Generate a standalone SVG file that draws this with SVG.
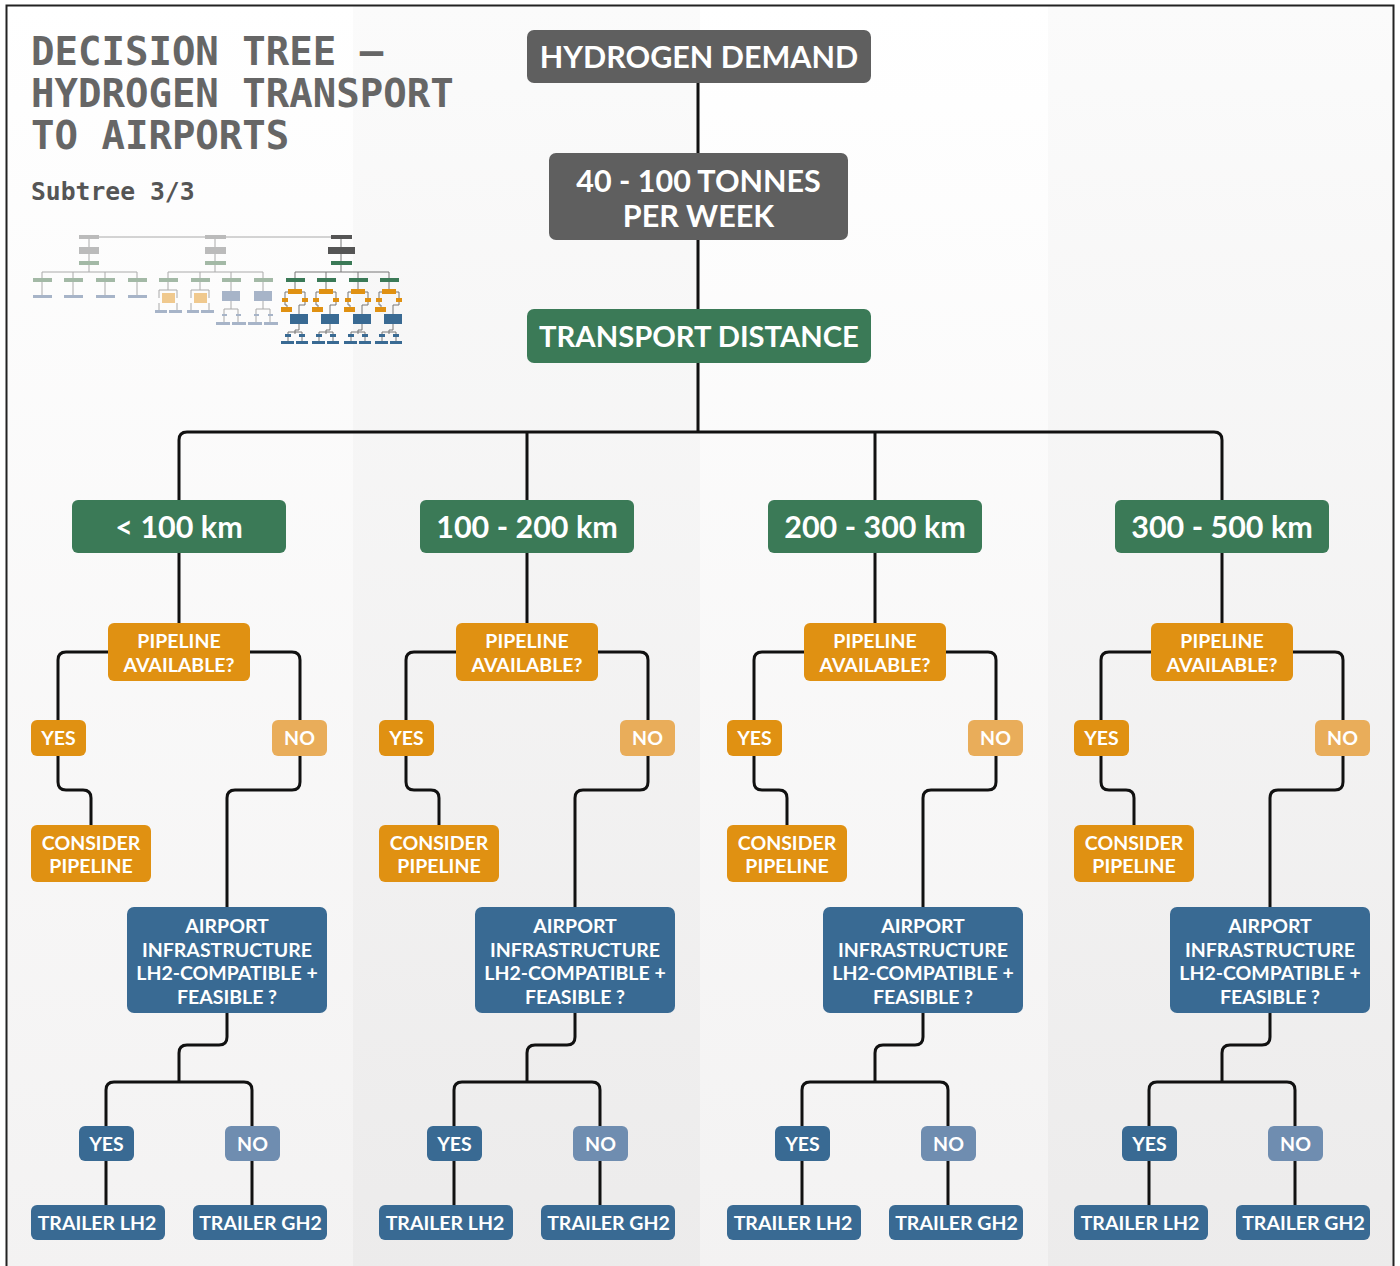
<svg xmlns="http://www.w3.org/2000/svg" width="1400" height="1266" viewBox="0 0 1400 1266">
<defs>
<linearGradient id="bgL" x1="0" y1="0" x2="0" y2="1"><stop offset="0" stop-color="#ffffff"/><stop offset="1" stop-color="#f3f2f2"/></linearGradient>
<linearGradient id="bgD" x1="0" y1="0" x2="0" y2="1"><stop offset="0" stop-color="#fbfbfb"/><stop offset="1" stop-color="#ecebeb"/></linearGradient>
<style>
.t{font-family:Lato,"Noto Sans","Liberation Sans",sans-serif;font-weight:700;fill:#fff;text-anchor:middle}
.big{font-size:30.5px}
.sm{font-size:19.5px}
.gray{fill:#5f5f5f}
.green{fill:#3b7a57}
.orange{fill:#e09112}
.orangeL{fill:#e9ad5a}
.blue{fill:#396a93}
.blueL{fill:#6f8db0}
.conn{fill:none;stroke:#111;stroke-width:3}
.mono{font-family:"DejaVu Sans Mono","Liberation Mono",monospace;font-weight:700}
.mm{fill:none;stroke:#aaa;stroke-width:1}
.mmd{fill:none;stroke:#777;stroke-width:1}
</style>
</defs>
<rect width="1400" height="1266" fill="#fff"/>
<rect x="6" y="5" width="347" height="1270" fill="url(#bgL)"/>
<rect x="353" y="5" width="347" height="1270" fill="url(#bgD)"/>
<rect x="700" y="5" width="348" height="1270" fill="url(#bgL)"/>
<rect x="1048" y="5" width="346" height="1270" fill="url(#bgD)"/>
<rect x="6.5" y="5.5" width="1387" height="1290" fill="none" stroke="#222" stroke-width="2"/>

<g id="title">
<text class="mono" x="31" y="65" font-size="39" fill="#666">DECISION TREE –</text>
<text class="mono" x="31" y="107" font-size="39" fill="#666">HYDROGEN TRANSPORT</text>
<text class="mono" x="31" y="149" font-size="39" fill="#666">TO AIRPORTS</text>
<text class="mono" x="31" y="200" font-size="24.7" fill="#555">Subtree 3/3</text>
</g>

<g id="minimap">
<path class="mm" d="M99,237H331M89,239V261M215,239V261M89,265V272M215,265V272M42,278V272H137V278M73,272V278M105,272V278M168,278V272H263V278M200,272V278M231,272V278"/>
<path class="mmd" d="M341,239V261M341,265V272M295,278V272H389V278M326,272V278M358,272V278"/>
<rect x="79" y="235" width="20" height="4" fill="#bbb"/><rect x="205" y="235" width="21" height="4" fill="#bbb"/><rect x="331" y="235" width="21" height="4" fill="#555"/>
<rect x="79" y="247" width="20" height="7" fill="#bbb"/><rect x="205" y="247" width="21" height="7" fill="#bbb"/><rect x="328" y="247" width="27" height="7" fill="#555"/>
<rect x="79" y="261" width="20" height="4" fill="#a3b9a6"/><rect x="205" y="261" width="21" height="4" fill="#a3b9a6"/><rect x="331" y="261" width="21" height="4" fill="#3b7a57"/>
<g fill="#a3b9a6"><rect x="33" y="278" width="19" height="4"/><rect x="64" y="278" width="19" height="4"/><rect x="96" y="278" width="19" height="4"/><rect x="128" y="278" width="19" height="4"/><rect x="159" y="278" width="19" height="4"/><rect x="191" y="278" width="19" height="4"/><rect x="222" y="278" width="19" height="4"/><rect x="254" y="278" width="19" height="4"/></g>
<g fill="#3b7a57"><rect x="286" y="278" width="19" height="4"/><rect x="317" y="278" width="19" height="4"/><rect x="349" y="278" width="19" height="4"/><rect x="380" y="278" width="19" height="4"/></g>
<path class="mm" d="M42,282V295M73,282V295M105,282V295M137,282V295"/>
<g fill="#a7b4c8"><rect x="33" y="295" width="19" height="3"/><rect x="64" y="295" width="19" height="3"/><rect x="96" y="295" width="19" height="3"/><rect x="128" y="295" width="19" height="3"/></g>
<path class="mm" d="M168,282V290M159,298V290H177V298M159,303V310M177,303V310M200,282V290M191,298V290H209V298M191,303V310M209,303V310"/>
<g fill="#f0c98e"><rect x="162" y="293" width="13" height="10"/><rect x="194" y="293" width="13" height="10"/></g>
<g fill="#a7b4c8"><rect x="155" y="310" width="12" height="3"/><rect x="169" y="310" width="13" height="3"/><rect x="187" y="310" width="12" height="3"/><rect x="201" y="310" width="13" height="3"/></g>
<path class="mm" d="M231,282V291M231,301V309H224V322M231,309H238V322M263,282V291M263,301V309H256V322M263,309H270V322"/>
<g fill="#a7b4c8"><rect x="222" y="291" width="18" height="10"/><rect x="254" y="291" width="18" height="10"/><rect x="222" y="314" width="5" height="2"/><rect x="236" y="314" width="5" height="2"/><rect x="254" y="314" width="5" height="2"/><rect x="268" y="314" width="5" height="2"/><rect x="216" y="322" width="14" height="3"/><rect x="232" y="322" width="14" height="3"/><rect x="248" y="322" width="14" height="3"/><rect x="264" y="322" width="14" height="3"/></g>
<g id="mm-active">
<path class="mmd" d="M295,282V289M288,292H285V298M302,292H305V298M285,302V305H287V307M305,302V305H299V314M299,324V330H295V334M288,334V332H302V334M288,337V341M302,337V341 M326,282V289M319,292H316V298M333,292H336V298M316,302V305H318V307M336,302V305H330V314M330,324V330H326V334M319,334V332H333V334M319,337V341M333,337V341 M358,282V289M351,292H348V298M365,292H368V298M348,302V305H350V307M368,302V305H362V314M362,324V330H358V334M351,334V332H365V334M351,337V341M365,337V341 M389,282V289M382,292H379V298M396,292H399V298M379,302V305H381V307M399,302V305H393V314M393,324V330H389V334M382,334V332H396V334M382,337V341M396,337V341"/>
<g fill="#e09112"><rect x="288" y="289" width="14" height="5"/><rect x="282" y="298" width="6" height="4"/><rect x="302" y="298" width="6" height="4"/><rect x="281" y="307" width="11" height="5"/><rect x="319" y="289" width="14" height="5"/><rect x="313" y="298" width="6" height="4"/><rect x="333" y="298" width="6" height="4"/><rect x="312" y="307" width="11" height="5"/><rect x="351" y="289" width="14" height="5"/><rect x="345" y="298" width="6" height="4"/><rect x="365" y="298" width="6" height="4"/><rect x="344" y="307" width="11" height="5"/><rect x="382" y="289" width="14" height="5"/><rect x="376" y="298" width="6" height="4"/><rect x="396" y="298" width="6" height="4"/><rect x="375" y="307" width="11" height="5"/></g>
<g fill="#396a93"><rect x="290" y="314" width="18" height="10"/><rect x="321" y="314" width="18" height="10"/><rect x="353" y="314" width="18" height="10"/><rect x="384" y="314" width="18" height="10"/>
<rect x="285" y="334" width="6" height="3"/><rect x="299" y="334" width="6" height="3"/><rect x="316" y="334" width="6" height="3"/><rect x="330" y="334" width="6" height="3"/><rect x="348" y="334" width="6" height="3"/><rect x="362" y="334" width="6" height="3"/><rect x="379" y="334" width="6" height="3"/><rect x="393" y="334" width="6" height="3"/>
<rect x="281" y="341" width="13" height="3"/><rect x="296" y="341" width="12" height="3"/><rect x="312" y="341" width="13" height="3"/><rect x="327" y="341" width="12" height="3"/><rect x="344" y="341" width="13" height="3"/><rect x="359" y="341" width="12" height="3"/><rect x="375" y="341" width="13" height="3"/><rect x="390" y="341" width="12" height="3"/></g>
</g>
</g>

<g id="connectors">
<path class="conn" d="M698,83V153M698,240V309M698,363V432"/>
<path class="conn" d="M179,500V440Q179,432 187,432H1214Q1222,432 1222,440V500M527,432V500M875,432V500"/>
<g id="conn-c1">
<path class="conn" d="M179,553V623M108,652H66Q58,652 58,660V720M250,652H292Q300,652 300,660V720M58,756V782Q58,790 66,790H83Q91,790 91,798V825M300,756V782Q300,790 292,790H235Q227,790 227,798V907M227,1013V1037Q227,1045 219,1045H187Q179,1045 179,1053V1082M106,1126V1090Q106,1082 114,1082H244Q252,1082 252,1090V1126M106,1161V1205M252,1161V1205"/>
</g>
<g transform="translate(348,0)"><path class="conn" d="M179,553V623M108,652H66Q58,652 58,660V720M250,652H292Q300,652 300,660V720M58,756V782Q58,790 66,790H83Q91,790 91,798V825M300,756V782Q300,790 292,790H235Q227,790 227,798V907M227,1013V1037Q227,1045 219,1045H187Q179,1045 179,1053V1082M106,1126V1090Q106,1082 114,1082H244Q252,1082 252,1090V1126M106,1161V1205M252,1161V1205"/></g>
<g transform="translate(696,0)"><path class="conn" d="M179,553V623M108,652H66Q58,652 58,660V720M250,652H292Q300,652 300,660V720M58,756V782Q58,790 66,790H83Q91,790 91,798V825M300,756V782Q300,790 292,790H235Q227,790 227,798V907M227,1013V1037Q227,1045 219,1045H187Q179,1045 179,1053V1082M106,1126V1090Q106,1082 114,1082H244Q252,1082 252,1090V1126M106,1161V1205M252,1161V1205"/></g>
<g transform="translate(1043,0)"><path class="conn" d="M179,553V623M108,652H66Q58,652 58,660V720M250,652H292Q300,652 300,660V720M58,756V782Q58,790 66,790H83Q91,790 91,798V825M300,756V782Q300,790 292,790H235Q227,790 227,798V907M227,1013V1037Q227,1045 219,1045H187Q179,1045 179,1053V1082M106,1126V1090Q106,1082 114,1082H244Q252,1082 252,1090V1126M106,1161V1205M252,1161V1205"/></g>
</g>

<g id="n-demand"><rect class="gray" x="527" y="30" width="344" height="53" rx="7"/><text class="t big" x="699" y="67.5">HYDROGEN DEMAND</text></g>
<g id="n-tonnes"><rect class="gray" x="549" y="153" width="299" height="87" rx="7"/><text class="t big" x="698.5" y="192">40 - 100 TONNES</text><text class="t big" x="698.5" y="227">PER WEEK</text></g>
<g id="n-distance"><rect class="green" x="527" y="309" width="344" height="54" rx="7"/><text class="t" font-size="29.2" x="699" y="346.5">TRANSPORT DISTANCE</text></g>

<g id="col1">
<g id="c1-dist"><rect class="green" x="72" y="500" width="214" height="53" rx="6"/><text class="t big" x="179" y="538">&lt; 100 km</text></g>
<g id="c1-pipe"><rect class="orange" x="108" y="623" width="142" height="58" rx="6"/><text class="t sm" x="179" y="648">PIPELINE</text><text class="t sm" x="179" y="672">AVAILABLE?</text></g>
<g id="c1-yes"><rect class="orange" x="31" y="720" width="55" height="36" rx="6"/><text class="t sm" x="58.5" y="745">YES</text></g>
<g id="c1-no"><rect class="orangeL" x="272" y="720" width="55" height="36" rx="6"/><text class="t sm" x="299.5" y="745">NO</text></g>
<g id="c1-consider"><rect class="orange" x="31" y="825" width="120" height="57" rx="6"/><text class="t sm" x="91" y="850">CONSIDER</text><text class="t sm" x="91" y="873">PIPELINE</text></g>
<g id="c1-airport"><rect class="blue" x="127" y="907" width="200" height="106" rx="7"/><text class="t sm" x="227" y="933">AIRPORT</text><text class="t sm" x="227" y="956.5">INFRASTRUCTURE</text><text class="t sm" x="227" y="980">LH2-COMPATIBLE +</text><text class="t sm" x="227" y="1003.5">FEASIBLE ?</text></g>
<g id="c1-yes2"><rect class="blue" x="79" y="1126" width="55" height="35" rx="6"/><text class="t sm" x="106.5" y="1151">YES</text></g>
<g id="c1-no2"><rect class="blueL" x="225" y="1126" width="55" height="35" rx="6"/><text class="t sm" x="252.5" y="1151">NO</text></g>
<g id="c1-lh2"><rect class="blue" x="31" y="1205" width="134" height="35" rx="6"/><text class="t sm" x="97" y="1230">TRAILER LH2</text></g>
<g id="c1-gh2"><rect class="blue" x="193" y="1205" width="134" height="35" rx="6"/><text class="t sm" x="260.5" y="1230">TRAILER GH2</text></g>
</g>

<g id="col2" transform="translate(348,0)">
<g id="c2-dist"><rect class="green" x="72" y="500" width="214" height="53" rx="6"/><text class="t big" x="179" y="538">100 - 200 km</text></g>
<g id="c2-pipe"><rect class="orange" x="108" y="623" width="142" height="58" rx="6"/><text class="t sm" x="179" y="648">PIPELINE</text><text class="t sm" x="179" y="672">AVAILABLE?</text></g>
<g id="c2-yes"><rect class="orange" x="31" y="720" width="55" height="36" rx="6"/><text class="t sm" x="58.5" y="745">YES</text></g>
<g id="c2-no"><rect class="orangeL" x="272" y="720" width="55" height="36" rx="6"/><text class="t sm" x="299.5" y="745">NO</text></g>
<g id="c2-consider"><rect class="orange" x="31" y="825" width="120" height="57" rx="6"/><text class="t sm" x="91" y="850">CONSIDER</text><text class="t sm" x="91" y="873">PIPELINE</text></g>
<g id="c2-airport"><rect class="blue" x="127" y="907" width="200" height="106" rx="7"/><text class="t sm" x="227" y="933">AIRPORT</text><text class="t sm" x="227" y="956.5">INFRASTRUCTURE</text><text class="t sm" x="227" y="980">LH2-COMPATIBLE +</text><text class="t sm" x="227" y="1003.5">FEASIBLE ?</text></g>
<g id="c2-yes2"><rect class="blue" x="79" y="1126" width="55" height="35" rx="6"/><text class="t sm" x="106.5" y="1151">YES</text></g>
<g id="c2-no2"><rect class="blueL" x="225" y="1126" width="55" height="35" rx="6"/><text class="t sm" x="252.5" y="1151">NO</text></g>
<g id="c2-lh2"><rect class="blue" x="31" y="1205" width="134" height="35" rx="6"/><text class="t sm" x="97" y="1230">TRAILER LH2</text></g>
<g id="c2-gh2"><rect class="blue" x="193" y="1205" width="134" height="35" rx="6"/><text class="t sm" x="260.5" y="1230">TRAILER GH2</text></g>
</g>

<g id="col3" transform="translate(696,0)">
<g id="c3-dist"><rect class="green" x="72" y="500" width="214" height="53" rx="6"/><text class="t big" x="179" y="538">200 - 300 km</text></g>
<g id="c3-pipe"><rect class="orange" x="108" y="623" width="142" height="58" rx="6"/><text class="t sm" x="179" y="648">PIPELINE</text><text class="t sm" x="179" y="672">AVAILABLE?</text></g>
<g id="c3-yes"><rect class="orange" x="31" y="720" width="55" height="36" rx="6"/><text class="t sm" x="58.5" y="745">YES</text></g>
<g id="c3-no"><rect class="orangeL" x="272" y="720" width="55" height="36" rx="6"/><text class="t sm" x="299.5" y="745">NO</text></g>
<g id="c3-consider"><rect class="orange" x="31" y="825" width="120" height="57" rx="6"/><text class="t sm" x="91" y="850">CONSIDER</text><text class="t sm" x="91" y="873">PIPELINE</text></g>
<g id="c3-airport"><rect class="blue" x="127" y="907" width="200" height="106" rx="7"/><text class="t sm" x="227" y="933">AIRPORT</text><text class="t sm" x="227" y="956.5">INFRASTRUCTURE</text><text class="t sm" x="227" y="980">LH2-COMPATIBLE +</text><text class="t sm" x="227" y="1003.5">FEASIBLE ?</text></g>
<g id="c3-yes2"><rect class="blue" x="79" y="1126" width="55" height="35" rx="6"/><text class="t sm" x="106.5" y="1151">YES</text></g>
<g id="c3-no2"><rect class="blueL" x="225" y="1126" width="55" height="35" rx="6"/><text class="t sm" x="252.5" y="1151">NO</text></g>
<g id="c3-lh2"><rect class="blue" x="31" y="1205" width="134" height="35" rx="6"/><text class="t sm" x="97" y="1230">TRAILER LH2</text></g>
<g id="c3-gh2"><rect class="blue" x="193" y="1205" width="134" height="35" rx="6"/><text class="t sm" x="260.5" y="1230">TRAILER GH2</text></g>
</g>

<g id="col4" transform="translate(1043,0)">
<g id="c4-dist"><rect class="green" x="72" y="500" width="214" height="53" rx="6"/><text class="t big" x="179" y="538">300 - 500 km</text></g>
<g id="c4-pipe"><rect class="orange" x="108" y="623" width="142" height="58" rx="6"/><text class="t sm" x="179" y="648">PIPELINE</text><text class="t sm" x="179" y="672">AVAILABLE?</text></g>
<g id="c4-yes"><rect class="orange" x="31" y="720" width="55" height="36" rx="6"/><text class="t sm" x="58.5" y="745">YES</text></g>
<g id="c4-no"><rect class="orangeL" x="272" y="720" width="55" height="36" rx="6"/><text class="t sm" x="299.5" y="745">NO</text></g>
<g id="c4-consider"><rect class="orange" x="31" y="825" width="120" height="57" rx="6"/><text class="t sm" x="91" y="850">CONSIDER</text><text class="t sm" x="91" y="873">PIPELINE</text></g>
<g id="c4-airport"><rect class="blue" x="127" y="907" width="200" height="106" rx="7"/><text class="t sm" x="227" y="933">AIRPORT</text><text class="t sm" x="227" y="956.5">INFRASTRUCTURE</text><text class="t sm" x="227" y="980">LH2-COMPATIBLE +</text><text class="t sm" x="227" y="1003.5">FEASIBLE ?</text></g>
<g id="c4-yes2"><rect class="blue" x="79" y="1126" width="55" height="35" rx="6"/><text class="t sm" x="106.5" y="1151">YES</text></g>
<g id="c4-no2"><rect class="blueL" x="225" y="1126" width="55" height="35" rx="6"/><text class="t sm" x="252.5" y="1151">NO</text></g>
<g id="c4-lh2"><rect class="blue" x="31" y="1205" width="134" height="35" rx="6"/><text class="t sm" x="97" y="1230">TRAILER LH2</text></g>
<g id="c4-gh2"><rect class="blue" x="193" y="1205" width="134" height="35" rx="6"/><text class="t sm" x="260.5" y="1230">TRAILER GH2</text></g>
</g>
</svg>
